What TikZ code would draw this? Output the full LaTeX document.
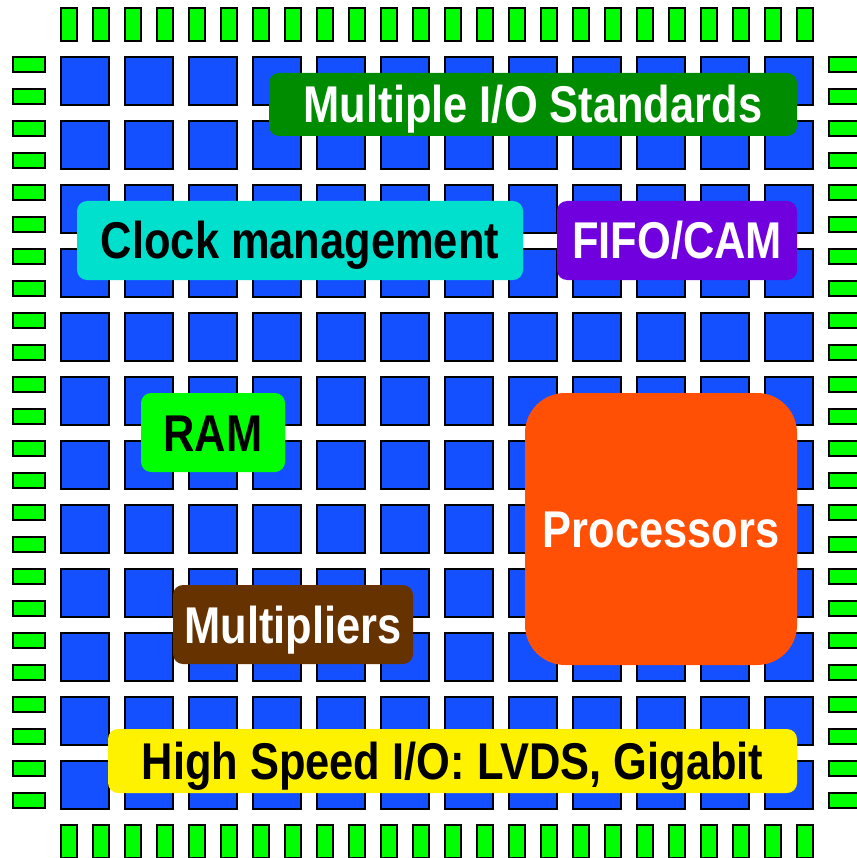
\documentclass[tikz,border=0pt]{standalone}
\usepackage{fontspec}
\newfontfamily\chipfont{Liberation Sans}[FakeStretch=0.84]
\definecolor{cellblue}{RGB}{20,80,255}
\definecolor{pingreen}{RGB}{0,255,0}
\definecolor{iogreen}{RGB}{0,140,0}
\definecolor{clockcyan}{RGB}{0,224,204}
\definecolor{fifopurple}{RGB}{112,0,221}
\definecolor{multbrown}{RGB}{102,51,0}
\definecolor{procorange}{RGB}{255,80,5}

\begin{document}
\begin{tikzpicture}[x=1pt, y=-1pt, cell/.style={fill=cellblue, draw=black, line width=2.5pt}, pin/.style={fill=pingreen, draw=black, line width=2.5pt}, block/.style={rounded corners=10pt, inner sep=0pt, font=\chipfont\bfseries\fontsize{51.7}{60}\selectfont, text height=37pt, text depth=0pt}]
  \useasboundingbox (0,0) rectangle (856,858);
  % logic cells
  \foreach \i in {0,...,11} {
    \foreach \j in {0,...,11} {
      \draw[cell] ({61+64*\i},{57+64*\j}) rectangle +(48,48);
    }
  }
  % I/O pins
  \foreach \k in {0,...,23} {
    \draw[pin] ({61+32*\k},8) rectangle +(16,33);
    \draw[pin] ({61+32*\k},825) rectangle +(16,33);
    \draw[pin] (13,{57+32*\k}) rectangle +(32,15);
    \draw[pin] (829,{57+32*\k}) rectangle +(32,15);
  }
  % blocks
  \node[block, fill=iogreen, text=white, minimum width=528pt, minimum height=63pt] (iostd) at (533,104.5) {Multiple I/O Standards};
  \node[block, fill=clockcyan, text=black, minimum width=446pt, minimum height=79pt] (clock) at (300,240.5) {Clock management};
  \node[block, fill=fifopurple, text=white, minimum width=240pt, minimum height=79pt] (fifo) at (677,240.5) {FIFO/CAM};
  \node[block, fill=pingreen, text=black, minimum width=144pt, minimum height=79pt] (ram) at (213,432.5) {RAM};
  \node[block, rounded corners=40pt, fill=procorange, text=white, minimum width=272pt, minimum height=272pt] (proc) at (661,529) {Processors};
  \node[block, fill=multbrown, text=white, minimum width=240pt, minimum height=79pt] (mult) at (293,624.5) {Multipliers};
  \node[block, fill=yellow, text=black, minimum width=689pt, minimum height=64pt] (hsio) at (452.5,761) {High Speed I/O: LVDS, Gigabit};
\end{tikzpicture}
\end{document}
